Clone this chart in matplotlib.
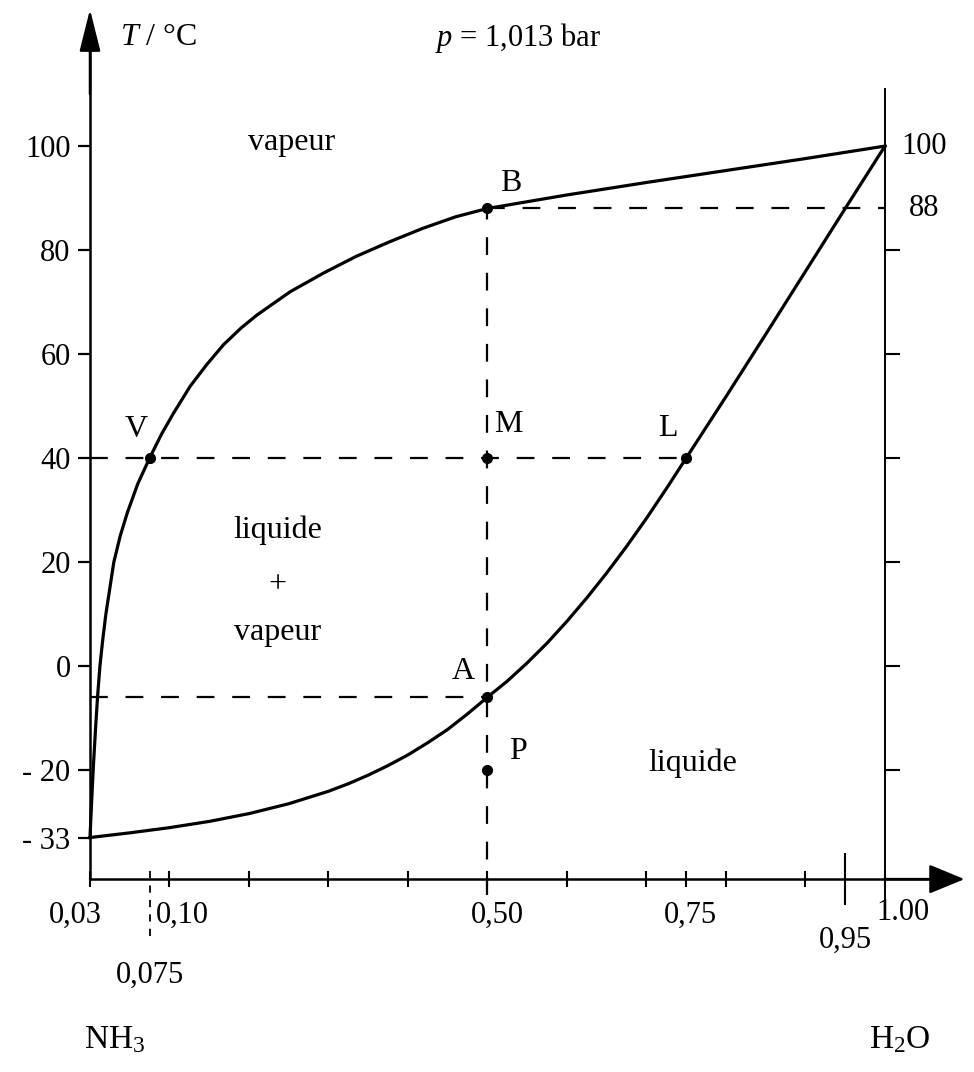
import matplotlib
matplotlib.use("Agg")
import matplotlib.pyplot as plt

plt.rcParams['font.family'] = ['Liberation Serif', 'DejaVu Serif']
plt.rcParams['mathtext.fontset'] = 'custom'
plt.rcParams['mathtext.rm'] = 'Liberation Serif'
plt.rcParams['mathtext.it'] = 'Liberation Serif:italic'

# dew (vapour) curve and boiling (liquid) curve
vap_x = [0.0, 0.0015, 0.004, 0.007, 0.0095, 0.0125, 0.016, 0.02, 0.025, 0.03,
         0.038, 0.047, 0.06, 0.075, 0.09, 0.105, 0.126, 0.147, 0.168, 0.19,
         0.21, 0.252, 0.294, 0.335, 0.377, 0.419, 0.46, 0.50,
         0.60, 0.70, 0.80, 0.90, 1.00]
vap_T = [-33, -28, -20, -12, -6, 0, 5, 10, 15, 20,
         25, 29.5, 35, 40, 44.6, 48.6, 53.8, 58.0, 61.8, 65.0,
         67.5, 72.0, 75.6, 78.8, 81.6, 84.2, 86.4, 88,
         90.6, 93.0, 95.3, 97.6, 100]

liq_x = [0.0, 0.05, 0.10, 0.15, 0.20, 0.25, 0.30, 0.325, 0.35, 0.375, 0.40,
         0.425, 0.45, 0.475, 0.50, 0.525, 0.55, 0.575, 0.60, 0.625, 0.65,
         0.675, 0.70, 0.725, 0.75, 0.80, 0.85, 0.90, 0.95, 1.00]
liq_T = [-33, -32.1, -31.1, -29.9, -28.4, -26.5, -24.1, -22.65, -21.0, -19.15, -17.1,
         -14.75, -12.2, -9.2, -6.0, -2.9, 0.6, 4.4, 8.6, 13.1, 17.9,
         23.0, 28.4, 34.1, 40.0, 51.8, 63.8, 75.9, 88.0, 100]

# named points
pt_names = ['V', 'M', 'L', 'B', 'A', 'P']
pt_x = [0.075, 0.50, 0.75, 0.50, 0.50, 0.50]
pt_T = [40, 40, 40, 88, -6, -20]

yticks = [100, 80, 60, 40, 20, 0, -20, -33]
ytick_labels = ['100', '80', '60', '40', '20', '0', '- 20', '- 33']
right_ticks = [80, 60, 40, 20, 0, -20]
right_labels = [100, 88]

xticks = [0.0, 0.1, 0.2, 0.3, 0.4, 0.5, 0.6, 0.7, 0.75, 0.8, 0.9, 1.0]
xlab_vals = [0.0, 0.1, 0.5, 0.75, 1.0, 0.95, 0.075]
xlab_text = ['0,03', '0,10', '0,50', '0,75', '1.00', '0,95', '0,075']

# ---- layout (pixel mapping of the original drawing) ----
FS = 22
T_axis = -41
fig = plt.figure(figsize=(9.74, 10.72), dpi=100)
ax = fig.add_axes([0, 0, 1, 1])
ax.set_xlim(-0.1132, 1.112)
ax.set_ylim(-78.1, 128.1)
ax.patch.set_visible(False)

for s in ['top', 'right']:
    ax.spines[s].set_visible(False)
ax.spines['left'].set_position(('data', 0))
ax.spines['left'].set_bounds(T_axis, 120)
ax.spines['bottom'].set_position(('data', T_axis))
ax.spines['bottom'].set_bounds(0, 1.07)
for s in ['left', 'bottom']:
    ax.spines[s].set_linewidth(1.8)

ax.set_yticks(yticks, ytick_labels)
ax.tick_params(axis='y', direction='out', length=9, width=1.6, pad=5, labelsize=FS)
ax.yaxis.get_major_ticks()[-1].tick1line.set_visible(False)

ax.set_xticks(xticks, [''] * len(xticks))
ax.set_xticks([0.95], [''], minor=True)
ax.tick_params(axis='x', which='major', direction='inout', length=12, width=1.5)
ax.tick_params(axis='x', which='minor', direction='inout', length=38, width=1.5)

# axis arrows
ax.annotate('', xy=(0, 126.3), xytext=(0, 110),
            arrowprops=dict(arrowstyle='-|>,head_length=1.0,head_width=0.25',
                            mutation_scale=26, color='k', lw=1.8,
                            shrinkA=0, shrinkB=0))
ax.annotate('', xy=(1.10, T_axis), xytext=(1.0, T_axis),
            arrowprops=dict(arrowstyle='-|>,head_length=0.85,head_width=0.35',
                            mutation_scale=26, color='k', lw=1.8,
                            shrinkA=0, shrinkB=0))

# right vertical axis at x = 1 (pure water)
ax2 = ax.twinx()
ax2.set_ylim(ax.get_ylim())
for s in ['left', 'top', 'bottom']:
    ax2.spines[s].set_visible(False)
ax2.spines['right'].set_position(('data', 1.0))
ax2.spines['right'].set_bounds(-45, 111)
ax2.spines['right'].set_linewidth(1.4)
ax2.set_yticks(right_ticks, [''] * len(right_ticks))
ax2.tick_params(axis='y', direction='out', length=11, width=1.5)

# x tick labels placed like in the drawing
xlab_dx = [-15, 13, 10, 4, 18, 0, 0]
xlab_dy = [-36, -36, -36, -36, -33, -61, -96]
for v, t, dx, dy in zip(xlab_vals, xlab_text, xlab_dx, xlab_dy):
    ax.annotate(t, xy=(v, T_axis), xytext=(dx, dy), textcoords='offset pixels',
                ha='center', va='center', fontsize=FS)

# guide lines
dash = dict(color='k', lw=1.6, linestyle=(0, (8, 8)), zorder=2)
iB, iA, iL, iV = pt_names.index('B'), pt_names.index('A'), pt_names.index('L'), pt_names.index('V')
ax.hlines(pt_T[iB], pt_x[iB], 1.0, **dash)
ax.vlines(pt_x[iB], -44, pt_T[iB], **dash)
ax.hlines(pt_T[iL], 0, pt_x[iL], **dash)
ax.hlines(pt_T[iA], 0, pt_x[iA], **dash)
ax.vlines(pt_x[iV], -52, -38, color='k', lw=1.3, linestyle=(0, (4, 4)), zorder=2)

# curves
ax.plot(vap_x, vap_T, color='k', lw=2.3, zorder=3, solid_joinstyle='round')
ax.plot(liq_x, liq_T, color='k', lw=2.3, zorder=3, solid_joinstyle='round')

# points and their letters
ax.plot(pt_x, pt_T, 'o', color='k', ms=7, zorder=4)
lab_dx = [-13, 21, -18, 23, -24, 30]
lab_dy = [29, 34, 30, 25, 26, 18]
for n, x, y, dx, dy in zip(pt_names, pt_x, pt_T, lab_dx, lab_dy):
    ax.annotate(n, xy=(x, y), xytext=(dx, dy), textcoords='offset pixels',
                ha='center', va='center', fontsize=FS + 1)

# right-side labels
for v in right_labels:
    ax.annotate(str(v), xy=(1.0, v), xytext=(39, 0), textcoords='offset pixels',
                ha='center', va='center', fontsize=FS)

# region names
ax.text(0.253, 100.6, 'vapeur', ha='center', va='center', fontsize=FS + 1)
ax.text(0.236, 26.2, 'liquide', ha='center', va='center', fontsize=FS + 1)
ax.text(0.236, 15.6, '+', ha='center', va='center', fontsize=FS + 1)
ax.text(0.236, 6.5, 'vapeur', ha='center', va='center', fontsize=FS + 1)
ax.text(0.758, -18.7, 'liquide', ha='center', va='center', fontsize=FS + 1)

# titles and species
ax.text(0.0377, 120.8, '$T$ / °C', ha='left', va='center', fontsize=FS + 1)
ax.text(0.538, 120.8, '$p$ = 1,013 bar', ha='center', va='center', fontsize=FS)
ax.text(0.031, -71.9, 'NH$_3$', ha='center', va='center', fontsize=FS + 2)
ax.text(1.019, -71.9, 'H$_2$O', ha='center', va='center', fontsize=FS + 2)

fig.savefig('out.png', dpi=100)
